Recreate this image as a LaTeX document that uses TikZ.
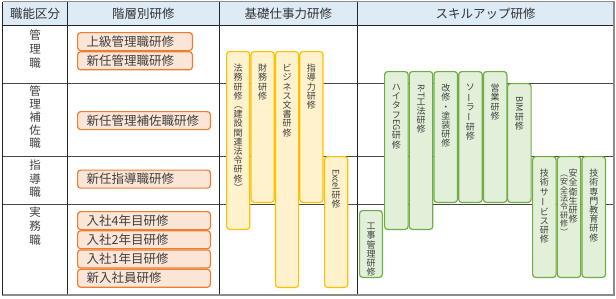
\documentclass[tikz,border=0pt]{standalone}
\usepackage{fontspec}
\setmainfont{Noto Sans CJK JP}
\usepackage{graphicx}
\usetikzlibrary{positioning}
\definecolor{trHead}{HTML}{DDEBF7}
\definecolor{trOrange}{HTML}{ED7D31}
\definecolor{trOrangeL}{HTML}{FBE5D6}
\definecolor{trGold}{HTML}{FFC000}
\definecolor{trGoldL}{HTML}{FFF2CC}
\definecolor{trGreen}{HTML}{70AD47}
\definecolor{trGreenL}{HTML}{E2F0D9}
\definecolor{trText}{HTML}{404040}
\definecolor{trRule}{HTML}{262626}
\definecolor{trFrame}{HTML}{8C8C8C}
\newcommand{\tatelat}[1]{\rotatebox[origin=c]{-90}{#1}}
\newcommand{\tatebar}{\rotatebox[origin=c]{90}{ー}}
\tikzset{
  trnode/.style={rounded corners=3pt, line width=1.2pt, inner sep=0pt, anchor=north west},
  course/.style={trnode, draw=trOrange, fill=trOrangeL, minimum height=18pt,
    inner xsep=9pt, align=left, text=trText, font=\fontsize{12.5pt}{15pt}\selectfont},
  basic/.style={trnode, draw=trGold, fill=trGoldL, minimum width=23.2pt},
  skill/.style={trnode, draw=trGreen, fill=trGreenL, minimum width=23.5pt},
  tate/.style={anchor=north, yshift=-13pt, inner sep=0pt, align=center, text=trText,
    font=\fontsize{9pt}{9.2pt}\selectfont},
  tatesmall/.style={tate, font=\fontsize{8pt}{8.4pt}\selectfont},
  rank/.style={anchor=north, inner sep=0pt, align=center, text=trText,
    font=\fontsize{11.5pt}{14pt}\selectfont},
  headtext/.style={inner sep=0pt, text=black!80, font=\fontsize{12.5pt}{15pt}\selectfont},
  rowline/.style={line width=0.9pt, trRule!85},
  colline/.style={line width=1pt, trRule}
}
\begin{document}
\begin{tikzpicture}[x=1pt,y=-1pt]
  \useasboundingbox (0,0) rectangle (616,298);
  % table
  \fill[trHead] (2.5,1.5) rectangle (614,25);
  \foreach \yy in {83,156,204} \draw[rowline] (2.5,\yy) -- (614,\yy);
  \draw[colline] (2.5,25) -- (614,25);
  \foreach \xx in {67,219.5,357} \draw[colline] (\xx,1.5) -- (\xx,295);
  \draw[trFrame, line width=1.2pt] (2.5,1.5) -- (614,1.5) -- (614,295);
  \draw[trFrame, line width=2pt] (2,295) -- (614.6,295);
  \draw[colline] (2.5,1.5) -- (2.5,295);

  % header
  \node[headtext] (hRank) at (35,13.5) {職能区分};
  \node[headtext] (hLayer) at (143.25,13.5) {階層別研修};
  \node[headtext] (hBasic) at (288.25,13.5) {基礎仕事力研修};
  \node[headtext] (hSkill) at (485.5,13.5) {スキルアップ研修};

  % 職能区分
  \node[rank] (rMgr) at (35,29.5) {管\\理\\職};
  \node[rank, font=\fontsize{11.5pt}{12.8pt}\selectfont] (rAsst) at (35,86) {管\\理\\補\\佐\\職};
  \node[rank, font=\fontsize{11.5pt}{13.5pt}\selectfont] (rLead) at (35,160) {指\\導\\職};
  \node[rank] (rStaff) at (35,207) {実\\務\\職};

  % 階層別研修
  \node[course, text width=96.8pt] (cSenior) at (77,32) {上級管理職研修};
  \node[course, text width=96.8pt, below=0pt of cSenior] (cNewMgr) {新任管理職研修};
  \node[course, text width=114.8pt] (cAsst) at (77,111) {新任管理補佐職研修};
  \node[course, text width=114.8pt] (cLead) at (77,169.5) {新任指導職研修};
  \node[course, text width=114.8pt] (cYear4) at (77,211) {入社4年目研修};
  \node[course, text width=114.8pt, below=0pt of cYear4] (cYear2) {入社2年目研修};
  \node[course, text width=114.8pt, below=0pt of cYear2] (cYear1) {入社1年目研修};
  \node[course, text width=114.8pt, below=0pt of cYear1] (cFresh) {新入社員研修};

  % 基礎仕事力研修
  \node[basic, minimum height=177.8pt,
    label={[tate]north:{法\\務\\研\\修\\\tatelat{（}\\建\\設\\関\\連\\法\\令\\研\\修\\\tatelat{）}}}]
    (bLaw) at (226,51) {};
  \node[basic, minimum height=150.8pt, right=0pt of bLaw.north east, anchor=north west,
    label={[tate]north:{財\\務\\研\\修}}] (bFin) {};
  \node[basic, minimum height=235.8pt, right=0pt of bFin.north east, anchor=north west,
    label={[tate]north:{ビ\\ジ\\ネ\\ス\\文\\書\\研\\修}}] (bDoc) {};
  \node[basic, minimum height=150.8pt, right=0pt of bDoc.north east, anchor=north west,
    label={[tate]north:{指\\導\\力\\研\\修}}] (bLead) {};
  \node[basic, minimum height=130.8pt,
    label={[tate]north:{\tatelat{Excel}\\研\\修}}] (bExcel) at (324,156) {};

  % スキルアップ研修
  \node[skill, minimum height=157.8pt,
    label={[tate]north:{ハ\\イ\\タ\\フ\\\tatelat{EG}\\研\\修}}] (sHitaf) at (384,71) {};
  \node[skill, minimum height=157.8pt, right=0pt of sHitaf.north east, anchor=north west,
    label={[tate]north:{\tatelat{R-T}\\工\\法\\研\\修}}] (sRT) {};
  \node[skill, minimum height=130.8pt, right=0pt of sRT.north east, anchor=north west,
    label={[tate]north:{改\\修\\・\\塗\\装\\研\\修}}] (sRepair) {};
  \node[skill, minimum height=130.8pt, right=0pt of sRepair.north east, anchor=north west,
    label={[tate]north:{ソ\\\tatebar\\ラ\\\tatebar\\研\\修}}] (sSolar) {};
  \node[skill, minimum height=130.8pt, right=0pt of sSolar.north east, anchor=north west,
    label={[tate]north:{営\\業\\研\\修}}] (sSales) {};
  \node[skill, minimum height=118.8pt,
    label={[tate]north:{\tatelat{BIM}\\研\\修}}] (sBIM) at (507,83) {};
  \node[skill, minimum width=22.8pt, minimum height=66.8pt,
    label={[tate]north:{工\\事\\管\\理\\研\\修}}] (sSite) at (359,210) {};
  \node[skill, minimum height=120.8pt,
    label={[tate]north:{技\\術\\サ\\\tatebar\\ビ\\ス\\研\\修}}] (sService) at (532,156) {};
  \node[skill, minimum height=120.8pt, right=0pt of sService.north east, anchor=north west,
    label={[tate, xshift=4pt]north:{安\\全\\衛\\生\\研\\修}},
    label={[tatesmall, xshift=-5pt]north:{\tatelat{（}\\安\\全\\法\\令\\研\\修\\\tatelat{）}}}]
    (sSafety) {};
  \node[skill, minimum height=120.8pt, right=0pt of sSafety.north east, anchor=north west,
    label={[tate]north:{技\\術\\専\\門\\教\\育\\研\\修}}] (sExpert) {};
\end{tikzpicture}
\end{document}
